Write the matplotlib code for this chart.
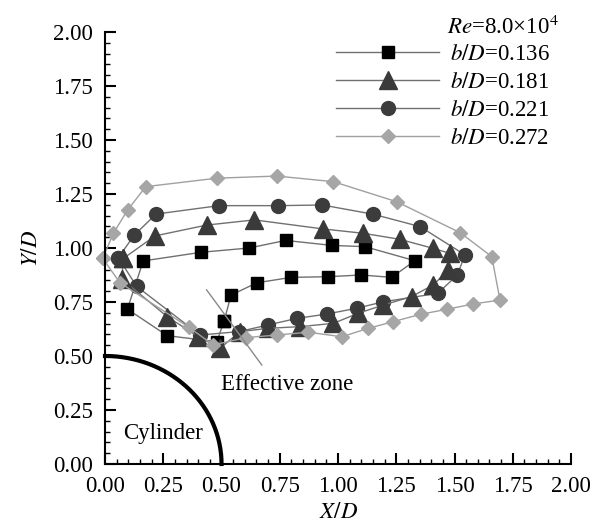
import numpy as np
import matplotlib
matplotlib.use("Agg")
import matplotlib.pyplot as plt
from matplotlib.ticker import MultipleLocator

plt.rcParams["font.family"] = ["Liberation Serif", "DejaVu Serif"]
plt.rcParams["mathtext.fontset"] = "stix"

# vortex-centre trajectories for each gap ratio
square_x = [0.511, 0.541, 0.652, 0.800, 0.958, 1.099, 1.230, 1.330, 1.116, 0.973, 0.775, 0.619,
            0.412, 0.164, 0.096, 0.267, 0.480, 0.511]
square_y = [0.662, 0.782, 0.839, 0.864, 0.867, 0.875, 0.864, 0.941, 1.006, 1.012, 1.035, 1.000,
            0.980, 0.940, 0.717, 0.594, 0.566, 0.662]

triangle_x = [0.079, 0.215, 0.436, 0.641, 0.937, 1.109, 1.266, 1.409, 1.480, 1.473, 1.409, 1.316,
              1.195, 1.087, 0.980, 0.837, 0.701, 0.579, 0.494, 0.400, 0.267, 0.072, 0.079]
triangle_y = [0.952, 1.056, 1.106, 1.130, 1.088, 1.068, 1.040, 0.998, 0.975, 0.898, 0.829, 0.775,
              0.736, 0.698, 0.651, 0.636, 0.628, 0.613, 0.536, 0.590, 0.682, 0.856, 0.952]

circle_x = [0.057, 0.126, 0.219, 0.489, 0.744, 0.933, 1.152, 1.352, 1.545, 1.512, 1.428, 1.195,
            1.080, 0.951, 0.823, 0.701, 0.576, 0.408, 0.136, 0.057]
circle_y = [0.955, 1.060, 1.157, 1.196, 1.196, 1.199, 1.156, 1.099, 0.968, 0.875, 0.790, 0.751,
            0.721, 0.694, 0.674, 0.644, 0.613, 0.597, 0.822, 0.955]

diamond_x = [-0.010, 0.036, 0.097, 0.175, 0.479, 0.737, 0.980, 1.252, 1.524, 1.660, 1.695, 1.581,
             1.466, 1.355, 1.237, 1.130, 1.016, 0.873, 0.737, 0.605, 0.465, 0.360, 0.064, -0.010]
diamond_y = [0.952, 1.068, 1.176, 1.284, 1.323, 1.333, 1.307, 1.214, 1.071, 0.960, 0.759, 0.741,
             0.716, 0.693, 0.659, 0.628, 0.589, 0.610, 0.597, 0.585, 0.551, 0.633, 0.839, 0.952]

labels = ["$b/D$=0.136", "$b/D$=0.181", "$b/D$=0.221", "$b/D$=0.272"]
ticks = [0.00, 0.25, 0.50, 0.75, 1.00, 1.25, 1.50, 1.75, 2.00]

FS = 16.5

fig = plt.figure(figsize=(5.95, 5.26), dpi=100)
ax = fig.add_axes([0.1765, 0.1179, 0.7832, 0.8213])

series = [
    (square_x, square_y, "s", 8, "#000000", "#707070"),
    (circle_x, circle_y, "o", 10, "#3c3c3c", "#707070"),
    (triangle_x, triangle_y, "^", 12.5, "#3a3a3a", "#707070"),
    (diamond_x, diamond_y, "D", 7.5, "#a6a6a6", "#a0a0a0"),
]
handles = {}
for xs, ys, mk, ms, fc, lc in series:
    h, = ax.plot(xs, ys, color=lc, lw=1.0, marker=mk, markersize=ms,
                 markerfacecolor=fc, markeredgecolor=fc, clip_on=False)
    handles[mk] = h

# cylinder surface (quarter circle, D = 1)
theta = np.linspace(0, np.pi / 2, 200)
ax.plot(0.5 * np.cos(theta), 0.5 * np.sin(theta), color="black", lw=3, clip_on=False)
ax.text(0.249, 0.139, "Cylinder", fontsize=FS, ha="center", va="center")

# effective zone pointer
ax.plot([0.436, 0.673], [0.806, 0.458], color="#8a8a8a", lw=1.0)
ax.text(0.781, 0.366, "Effective zone", fontsize=FS, ha="center", va="center")

ax.text(0.734, 1.010, "$Re$=8.0×10$^4$", transform=ax.transAxes, fontsize=FS,
        ha="left", va="center")
ax.legend([handles["s"], handles["^"], handles["o"], handles["D"]], labels,
          loc="upper left", bbox_to_anchor=(0.462, 1.009), frameon=False,
          fontsize=FS, handlelength=4.5, handletextpad=0.45, labelspacing=0.3,
          borderpad=0.2)

ax.set_xlim(0, 2)
ax.set_ylim(0, 2)
ax.set_xticks(ticks)
ax.set_yticks(ticks)
ax.set_xticklabels([f"{t:.2f}" for t in ticks])
ax.set_yticklabels([f"{t:.2f}" for t in ticks])
ax.xaxis.set_minor_locator(MultipleLocator(0.05))
ax.yaxis.set_minor_locator(MultipleLocator(0.05))
ax.tick_params(which="major", direction="in", length=8, width=1.5, labelsize=FS, pad=9)
ax.tick_params(which="minor", direction="in", length=3.6, width=1.0)
ax.spines["top"].set_visible(False)
ax.spines["right"].set_visible(False)
ax.spines["left"].set_linewidth(1.5)
ax.spines["bottom"].set_linewidth(1.5)

ax.set_xlabel("$X/D$", fontsize=FS, labelpad=3)
ax.set_ylabel("$Y/D$", fontsize=FS, labelpad=8)

fig.savefig("out.png", dpi=100)
